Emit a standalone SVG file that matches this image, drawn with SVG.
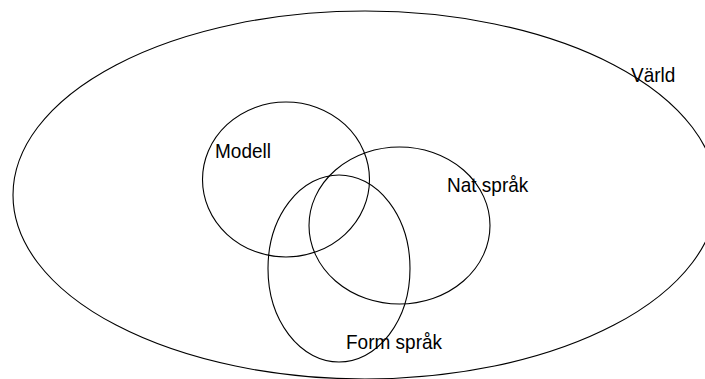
<svg xmlns="http://www.w3.org/2000/svg" width="705" height="379" viewBox="0 0 705 379">
<style>
.s{fill:none;stroke:#000;stroke-width:1.1}
.t{font-family:"Liberation Sans",Arial,sans-serif;font-size:20px;fill:#000}
</style>
<rect width="705" height="379" fill="#fff"/>
<g id="varld"><ellipse class="s" cx="365" cy="195" rx="352" ry="184"/><text class="t" transform="translate(631,82) scale(0.95,1)">Värld</text></g>
<g id="modell"><ellipse class="s" cx="286" cy="179.5" rx="83.5" ry="77.5"/><text class="t" transform="translate(215,158) scale(0.95,1)">Modell</text></g>
<g id="natsprak"><ellipse class="s" cx="399.5" cy="225.5" rx="90.5" ry="78.5"/><text class="t" transform="translate(447,192) scale(0.95,1)">Nat språk</text></g>
<g id="formsprak"><ellipse class="s" cx="339" cy="268.5" rx="71" ry="93.5"/><text class="t" transform="translate(346,349) scale(0.95,1)">Form språk</text></g>
<g id="connectors"/>
</svg>
